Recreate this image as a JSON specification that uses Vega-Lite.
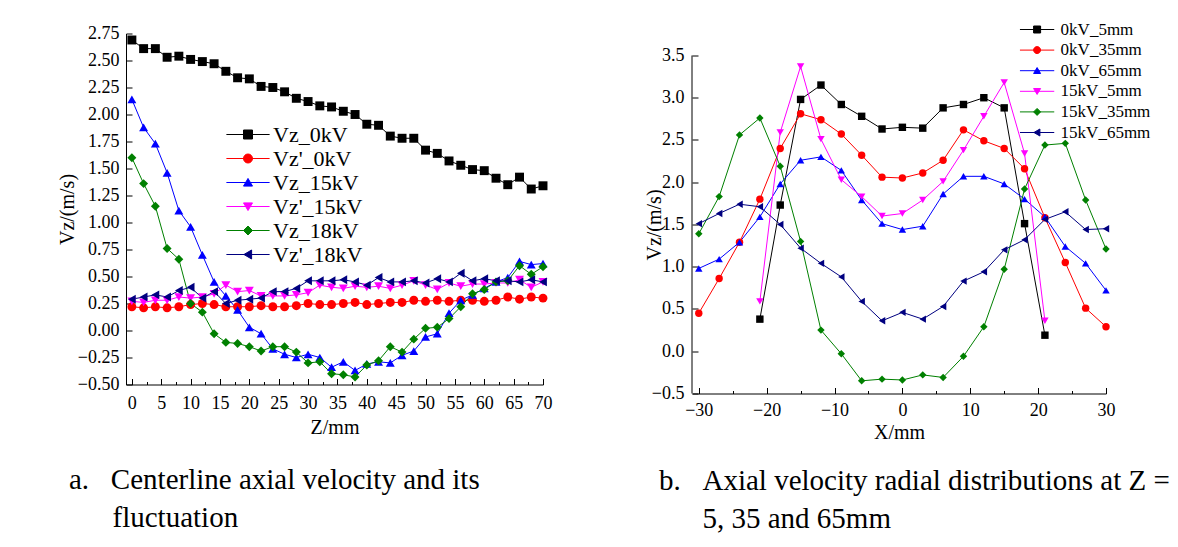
{
"$schema": "https://vega.github.io/schema/vega-lite/v6.json",
"background": "white",
"padding": {"left": 57, "top": 20.5, "right": 0, "bottom": 0},
"spacing": 92,
"config": {
  "font": "Liberation Serif",
  "view": {"stroke": null},
  "axis": {"domainColor": "black", "tickColor": "black", "labelColor": "black", "titleColor": "black", "grid": false, "titleFontWeight": "normal", "tickSize": -6, "domainWidth": 1, "tickWidth": 1, "labelFlush": false, "labelOverlap": false},
  "legend": {"labelFont": "Liberation Serif", "labelColor": "black"},
  "title": {"font": "Liberation Serif", "fontWeight": "normal", "color": "black"}
},
"resolve": {"scale": {"color": "independent", "shape": "independent", "fill": "independent", "stroke": "independent"}},
"datasets": {
"a": [
{"s":"Vz_0kV","z":0,"v":2.69},{"s":"Vz_0kV","z":2,"v":2.61},{"s":"Vz_0kV","z":4,"v":2.61},{"s":"Vz_0kV","z":6,"v":2.53},{"s":"Vz_0kV","z":8,"v":2.54},{"s":"Vz_0kV","z":10,"v":2.51},{"s":"Vz_0kV","z":12,"v":2.49},{"s":"Vz_0kV","z":14,"v":2.47},{"s":"Vz_0kV","z":16,"v":2.40},{"s":"Vz_0kV","z":18,"v":2.34},{"s":"Vz_0kV","z":20,"v":2.33},{"s":"Vz_0kV","z":22,"v":2.26},{"s":"Vz_0kV","z":24,"v":2.25},{"s":"Vz_0kV","z":26,"v":2.21},{"s":"Vz_0kV","z":28,"v":2.15},{"s":"Vz_0kV","z":30,"v":2.12},{"s":"Vz_0kV","z":32,"v":2.08},{"s":"Vz_0kV","z":34,"v":2.07},{"s":"Vz_0kV","z":36,"v":2.03},{"s":"Vz_0kV","z":38,"v":2.00},{"s":"Vz_0kV","z":40,"v":1.91},{"s":"Vz_0kV","z":42,"v":1.90},{"s":"Vz_0kV","z":44,"v":1.80},{"s":"Vz_0kV","z":46,"v":1.78},{"s":"Vz_0kV","z":48,"v":1.78},{"s":"Vz_0kV","z":50,"v":1.67},{"s":"Vz_0kV","z":52,"v":1.64},{"s":"Vz_0kV","z":54,"v":1.57},{"s":"Vz_0kV","z":56,"v":1.53},{"s":"Vz_0kV","z":58,"v":1.49},{"s":"Vz_0kV","z":60,"v":1.48},{"s":"Vz_0kV","z":62,"v":1.41},{"s":"Vz_0kV","z":64,"v":1.35},{"s":"Vz_0kV","z":66,"v":1.42},{"s":"Vz_0kV","z":68,"v":1.31},{"s":"Vz_0kV","z":70,"v":1.34},
{"s":"Vz'_0kV","z":0,"v":0.22},{"s":"Vz'_0kV","z":2,"v":0.21},{"s":"Vz'_0kV","z":4,"v":0.22},{"s":"Vz'_0kV","z":6,"v":0.21},{"s":"Vz'_0kV","z":8,"v":0.22},{"s":"Vz'_0kV","z":10,"v":0.24},{"s":"Vz'_0kV","z":12,"v":0.25},{"s":"Vz'_0kV","z":14,"v":0.24},{"s":"Vz'_0kV","z":16,"v":0.22},{"s":"Vz'_0kV","z":18,"v":0.22},{"s":"Vz'_0kV","z":20,"v":0.22},{"s":"Vz'_0kV","z":22,"v":0.23},{"s":"Vz'_0kV","z":24,"v":0.22},{"s":"Vz'_0kV","z":26,"v":0.22},{"s":"Vz'_0kV","z":28,"v":0.23},{"s":"Vz'_0kV","z":30,"v":0.25},{"s":"Vz'_0kV","z":32,"v":0.24},{"s":"Vz'_0kV","z":34,"v":0.24},{"s":"Vz'_0kV","z":36,"v":0.25},{"s":"Vz'_0kV","z":38,"v":0.26},{"s":"Vz'_0kV","z":40,"v":0.24},{"s":"Vz'_0kV","z":42,"v":0.25},{"s":"Vz'_0kV","z":44,"v":0.26},{"s":"Vz'_0kV","z":46,"v":0.26},{"s":"Vz'_0kV","z":48,"v":0.28},{"s":"Vz'_0kV","z":50,"v":0.27},{"s":"Vz'_0kV","z":52,"v":0.28},{"s":"Vz'_0kV","z":54,"v":0.27},{"s":"Vz'_0kV","z":56,"v":0.28},{"s":"Vz'_0kV","z":58,"v":0.28},{"s":"Vz'_0kV","z":60,"v":0.27},{"s":"Vz'_0kV","z":62,"v":0.28},{"s":"Vz'_0kV","z":64,"v":0.31},{"s":"Vz'_0kV","z":66,"v":0.29},{"s":"Vz'_0kV","z":68,"v":0.31},{"s":"Vz'_0kV","z":70,"v":0.30},
{"s":"Vz_15kV","z":0,"v":2.14},{"s":"Vz_15kV","z":2,"v":1.88},{"s":"Vz_15kV","z":4,"v":1.73},{"s":"Vz_15kV","z":6,"v":1.46},{"s":"Vz_15kV","z":8,"v":1.11},{"s":"Vz_15kV","z":10,"v":0.96},{"s":"Vz_15kV","z":12,"v":0.70},{"s":"Vz_15kV","z":14,"v":0.45},{"s":"Vz_15kV","z":16,"v":0.32},{"s":"Vz_15kV","z":18,"v":0.19},{"s":"Vz_15kV","z":20,"v":0.03},{"s":"Vz_15kV","z":22,"v":-0.03},{"s":"Vz_15kV","z":24,"v":-0.17},{"s":"Vz_15kV","z":26,"v":-0.22},{"s":"Vz_15kV","z":28,"v":-0.25},{"s":"Vz_15kV","z":30,"v":-0.22},{"s":"Vz_15kV","z":32,"v":-0.25},{"s":"Vz_15kV","z":34,"v":-0.34},{"s":"Vz_15kV","z":36,"v":-0.29},{"s":"Vz_15kV","z":38,"v":-0.37},{"s":"Vz_15kV","z":40,"v":-0.31},{"s":"Vz_15kV","z":42,"v":-0.29},{"s":"Vz_15kV","z":44,"v":-0.30},{"s":"Vz_15kV","z":46,"v":-0.23},{"s":"Vz_15kV","z":48,"v":-0.19},{"s":"Vz_15kV","z":50,"v":-0.06},{"s":"Vz_15kV","z":52,"v":-0.03},{"s":"Vz_15kV","z":54,"v":0.16},{"s":"Vz_15kV","z":56,"v":0.28},{"s":"Vz_15kV","z":58,"v":0.33},{"s":"Vz_15kV","z":60,"v":0.39},{"s":"Vz_15kV","z":62,"v":0.45},{"s":"Vz_15kV","z":64,"v":0.49},{"s":"Vz_15kV","z":66,"v":0.64},{"s":"Vz_15kV","z":68,"v":0.61},{"s":"Vz_15kV","z":70,"v":0.62},
{"s":"Vz'_15kV","z":0,"v":0.27},{"s":"Vz'_15kV","z":2,"v":0.26},{"s":"Vz'_15kV","z":4,"v":0.28},{"s":"Vz'_15kV","z":6,"v":0.28},{"s":"Vz'_15kV","z":8,"v":0.31},{"s":"Vz'_15kV","z":10,"v":0.30},{"s":"Vz'_15kV","z":12,"v":0.31},{"s":"Vz'_15kV","z":14,"v":0.34},{"s":"Vz'_15kV","z":16,"v":0.42},{"s":"Vz'_15kV","z":18,"v":0.36},{"s":"Vz'_15kV","z":20,"v":0.37},{"s":"Vz'_15kV","z":22,"v":0.32},{"s":"Vz'_15kV","z":24,"v":0.32},{"s":"Vz'_15kV","z":26,"v":0.32},{"s":"Vz'_15kV","z":28,"v":0.33},{"s":"Vz'_15kV","z":30,"v":0.35},{"s":"Vz'_15kV","z":32,"v":0.42},{"s":"Vz'_15kV","z":34,"v":0.40},{"s":"Vz'_15kV","z":36,"v":0.39},{"s":"Vz'_15kV","z":38,"v":0.41},{"s":"Vz'_15kV","z":40,"v":0.40},{"s":"Vz'_15kV","z":42,"v":0.41},{"s":"Vz'_15kV","z":44,"v":0.39},{"s":"Vz'_15kV","z":46,"v":0.42},{"s":"Vz'_15kV","z":48,"v":0.46},{"s":"Vz'_15kV","z":50,"v":0.42},{"s":"Vz'_15kV","z":52,"v":0.38},{"s":"Vz'_15kV","z":54,"v":0.44},{"s":"Vz'_15kV","z":56,"v":0.41},{"s":"Vz'_15kV","z":58,"v":0.43},{"s":"Vz'_15kV","z":60,"v":0.43},{"s":"Vz'_15kV","z":62,"v":0.44},{"s":"Vz'_15kV","z":64,"v":0.44},{"s":"Vz'_15kV","z":66,"v":0.47},{"s":"Vz'_15kV","z":68,"v":0.40},{"s":"Vz'_15kV","z":70,"v":0.45},
{"s":"Vz_18kV","z":0,"v":1.60},{"s":"Vz_18kV","z":2,"v":1.36},{"s":"Vz_18kV","z":4,"v":1.15},{"s":"Vz_18kV","z":6,"v":0.76},{"s":"Vz_18kV","z":8,"v":0.66},{"s":"Vz_18kV","z":10,"v":0.25},{"s":"Vz_18kV","z":12,"v":0.17},{"s":"Vz_18kV","z":14,"v":-0.03},{"s":"Vz_18kV","z":16,"v":-0.11},{"s":"Vz_18kV","z":18,"v":-0.12},{"s":"Vz_18kV","z":20,"v":-0.15},{"s":"Vz_18kV","z":22,"v":-0.19},{"s":"Vz_18kV","z":24,"v":-0.15},{"s":"Vz_18kV","z":26,"v":-0.15},{"s":"Vz_18kV","z":28,"v":-0.20},{"s":"Vz_18kV","z":30,"v":-0.30},{"s":"Vz_18kV","z":32,"v":-0.29},{"s":"Vz_18kV","z":34,"v":-0.40},{"s":"Vz_18kV","z":36,"v":-0.41},{"s":"Vz_18kV","z":38,"v":-0.43},{"s":"Vz_18kV","z":40,"v":-0.32},{"s":"Vz_18kV","z":42,"v":-0.28},{"s":"Vz_18kV","z":44,"v":-0.15},{"s":"Vz_18kV","z":46,"v":-0.20},{"s":"Vz_18kV","z":48,"v":-0.08},{"s":"Vz_18kV","z":50,"v":0.02},{"s":"Vz_18kV","z":52,"v":0.03},{"s":"Vz_18kV","z":54,"v":0.11},{"s":"Vz_18kV","z":56,"v":0.22},{"s":"Vz_18kV","z":58,"v":0.34},{"s":"Vz_18kV","z":60,"v":0.38},{"s":"Vz_18kV","z":62,"v":0.45},{"s":"Vz_18kV","z":64,"v":0.46},{"s":"Vz_18kV","z":66,"v":0.60},{"s":"Vz_18kV","z":68,"v":0.52},{"s":"Vz_18kV","z":70,"v":0.59},
{"s":"Vz'_18kV","z":0,"v":0.29},{"s":"Vz'_18kV","z":2,"v":0.31},{"s":"Vz'_18kV","z":4,"v":0.33},{"s":"Vz'_18kV","z":6,"v":0.31},{"s":"Vz'_18kV","z":8,"v":0.37},{"s":"Vz'_18kV","z":10,"v":0.40},{"s":"Vz'_18kV","z":12,"v":0.30},{"s":"Vz'_18kV","z":14,"v":0.36},{"s":"Vz'_18kV","z":16,"v":0.25},{"s":"Vz'_18kV","z":18,"v":0.28},{"s":"Vz'_18kV","z":20,"v":0.29},{"s":"Vz'_18kV","z":22,"v":0.30},{"s":"Vz'_18kV","z":24,"v":0.36},{"s":"Vz'_18kV","z":26,"v":0.36},{"s":"Vz'_18kV","z":28,"v":0.39},{"s":"Vz'_18kV","z":30,"v":0.46},{"s":"Vz'_18kV","z":32,"v":0.46},{"s":"Vz'_18kV","z":34,"v":0.46},{"s":"Vz'_18kV","z":36,"v":0.47},{"s":"Vz'_18kV","z":38,"v":0.45},{"s":"Vz'_18kV","z":40,"v":0.42},{"s":"Vz'_18kV","z":42,"v":0.49},{"s":"Vz'_18kV","z":44,"v":0.45},{"s":"Vz'_18kV","z":46,"v":0.45},{"s":"Vz'_18kV","z":48,"v":0.46},{"s":"Vz'_18kV","z":50,"v":0.44},{"s":"Vz'_18kV","z":52,"v":0.48},{"s":"Vz'_18kV","z":54,"v":0.45},{"s":"Vz'_18kV","z":56,"v":0.53},{"s":"Vz'_18kV","z":58,"v":0.46},{"s":"Vz'_18kV","z":60,"v":0.48},{"s":"Vz'_18kV","z":62,"v":0.46},{"s":"Vz'_18kV","z":64,"v":0.46},{"s":"Vz'_18kV","z":66,"v":0.45},{"s":"Vz'_18kV","z":68,"v":0.47},{"s":"Vz'_18kV","z":70,"v":0.45}
],
"b": [
{"s":"0kV_5mm","x":-21,"v":0.38},{"s":"0kV_5mm","x":-18,"v":1.73},{"s":"0kV_5mm","x":-15,"v":2.98},{"s":"0kV_5mm","x":-12,"v":3.15},{"s":"0kV_5mm","x":-9,"v":2.92},{"s":"0kV_5mm","x":-6,"v":2.78},{"s":"0kV_5mm","x":-3,"v":2.63},{"s":"0kV_5mm","x":0,"v":2.65},{"s":"0kV_5mm","x":3,"v":2.64},{"s":"0kV_5mm","x":6,"v":2.88},{"s":"0kV_5mm","x":9,"v":2.92},{"s":"0kV_5mm","x":12,"v":3.00},{"s":"0kV_5mm","x":15,"v":2.88},{"s":"0kV_5mm","x":18,"v":1.51},{"s":"0kV_5mm","x":21,"v":0.19},
{"s":"0kV_35mm","x":-30,"v":0.45},{"s":"0kV_35mm","x":-27,"v":0.86},{"s":"0kV_35mm","x":-24,"v":1.29},{"s":"0kV_35mm","x":-21,"v":1.80},{"s":"0kV_35mm","x":-18,"v":2.40},{"s":"0kV_35mm","x":-15,"v":2.81},{"s":"0kV_35mm","x":-12,"v":2.74},{"s":"0kV_35mm","x":-9,"v":2.57},{"s":"0kV_35mm","x":-6,"v":2.32},{"s":"0kV_35mm","x":-3,"v":2.06},{"s":"0kV_35mm","x":0,"v":2.05},{"s":"0kV_35mm","x":3,"v":2.11},{"s":"0kV_35mm","x":6,"v":2.26},{"s":"0kV_35mm","x":9,"v":2.62},{"s":"0kV_35mm","x":12,"v":2.49},{"s":"0kV_35mm","x":15,"v":2.40},{"s":"0kV_35mm","x":18,"v":2.16},{"s":"0kV_35mm","x":21,"v":1.58},{"s":"0kV_35mm","x":24,"v":1.05},{"s":"0kV_35mm","x":27,"v":0.51},{"s":"0kV_35mm","x":30,"v":0.29},
{"s":"0kV_65mm","x":-30,"v":0.98},{"s":"0kV_65mm","x":-27,"v":1.09},{"s":"0kV_65mm","x":-24,"v":1.29},{"s":"0kV_65mm","x":-21,"v":1.59},{"s":"0kV_65mm","x":-18,"v":1.98},{"s":"0kV_65mm","x":-15,"v":2.26},{"s":"0kV_65mm","x":-12,"v":2.30},{"s":"0kV_65mm","x":-9,"v":2.14},{"s":"0kV_65mm","x":-6,"v":1.79},{"s":"0kV_65mm","x":-3,"v":1.51},{"s":"0kV_65mm","x":0,"v":1.44},{"s":"0kV_65mm","x":3,"v":1.48},{"s":"0kV_65mm","x":6,"v":1.86},{"s":"0kV_65mm","x":9,"v":2.07},{"s":"0kV_65mm","x":12,"v":2.07},{"s":"0kV_65mm","x":15,"v":1.98},{"s":"0kV_65mm","x":18,"v":1.80},{"s":"0kV_65mm","x":21,"v":1.59},{"s":"0kV_65mm","x":24,"v":1.24},{"s":"0kV_65mm","x":27,"v":1.04},{"s":"0kV_65mm","x":30,"v":0.72},
{"s":"15kV_5mm","x":-21,"v":0.59},{"s":"15kV_5mm","x":-18,"v":2.59},{"s":"15kV_5mm","x":-15,"v":3.37},{"s":"15kV_5mm","x":-12,"v":2.51},{"s":"15kV_5mm","x":-9,"v":2.03},{"s":"15kV_5mm","x":-6,"v":1.83},{"s":"15kV_5mm","x":-3,"v":1.60},{"s":"15kV_5mm","x":0,"v":1.63},{"s":"15kV_5mm","x":3,"v":1.79},{"s":"15kV_5mm","x":6,"v":2.01},{"s":"15kV_5mm","x":9,"v":2.38},{"s":"15kV_5mm","x":12,"v":2.78},{"s":"15kV_5mm","x":15,"v":3.18},{"s":"15kV_5mm","x":18,"v":2.34},{"s":"15kV_5mm","x":21,"v":0.36},
{"s":"15kV_35mm","x":-30,"v":1.39},{"s":"15kV_35mm","x":-27,"v":1.83},{"s":"15kV_35mm","x":-24,"v":2.56},{"s":"15kV_35mm","x":-21,"v":2.76},{"s":"15kV_35mm","x":-18,"v":2.19},{"s":"15kV_35mm","x":-15,"v":1.30},{"s":"15kV_35mm","x":-12,"v":0.25},{"s":"15kV_35mm","x":-9,"v":-0.03},{"s":"15kV_35mm","x":-6,"v":-0.35},{"s":"15kV_35mm","x":-3,"v":-0.33},{"s":"15kV_35mm","x":0,"v":-0.34},{"s":"15kV_35mm","x":3,"v":-0.28},{"s":"15kV_35mm","x":6,"v":-0.31},{"s":"15kV_35mm","x":9,"v":-0.06},{"s":"15kV_35mm","x":12,"v":0.29},{"s":"15kV_35mm","x":15,"v":0.97},{"s":"15kV_35mm","x":18,"v":1.92},{"s":"15kV_35mm","x":21,"v":2.44},{"s":"15kV_35mm","x":24,"v":2.46},{"s":"15kV_35mm","x":27,"v":1.79},{"s":"15kV_35mm","x":30,"v":1.21},
{"s":"15kV_65mm","x":-30,"v":1.51},{"s":"15kV_65mm","x":-27,"v":1.63},{"s":"15kV_65mm","x":-24,"v":1.74},{"s":"15kV_65mm","x":-21,"v":1.71},{"s":"15kV_65mm","x":-18,"v":1.50},{"s":"15kV_65mm","x":-15,"v":1.22},{"s":"15kV_65mm","x":-12,"v":1.04},{"s":"15kV_65mm","x":-9,"v":0.88},{"s":"15kV_65mm","x":-6,"v":0.59},{"s":"15kV_65mm","x":-3,"v":0.36},{"s":"15kV_65mm","x":0,"v":0.46},{"s":"15kV_65mm","x":3,"v":0.38},{"s":"15kV_65mm","x":6,"v":0.53},{"s":"15kV_65mm","x":9,"v":0.83},{"s":"15kV_65mm","x":12,"v":0.94},{"s":"15kV_65mm","x":15,"v":1.20},{"s":"15kV_65mm","x":18,"v":1.32},{"s":"15kV_65mm","x":21,"v":1.56},{"s":"15kV_65mm","x":24,"v":1.65},{"s":"15kV_65mm","x":27,"v":1.44},{"s":"15kV_65mm","x":30,"v":1.45}
]
},
"hconcat": [
{
  "width": 417, "height": 351,
  "data": {"name": "a"},
  "title": {"text": ["a.\u00a0\u00a0\u00a0Centerline axial velocity and its", "\u200b\u00a0\u00a0\u00a0\u00a0\u00a0\u00a0fluctuation"], "orient": "bottom", "anchor": "start", "frame": "group", "dx": -57, "offset": 28, "fontSize": 29, "lineHeight": 38},
  "encoding": {
    "x": {"field": "z", "type": "quantitative", "scale": {"domain": [-1, 70], "nice": false, "zero": false},
      "axis": {"title": "Z/mm", "values": [0,2.5,5,7.5,10,12.5,15,17.5,20,22.5,25,27.5,30,32.5,35,37.5,40,42.5,45,47.5,50,52.5,55,57.5,60,62.5,65,67.5,70], "labelExpr": "datum.value % 5 === 0 ? datum.label : ''", "tickSize": {"condition": {"test": "datum.value % 5 === 0", "value": -6}, "value": -3}, "labelFontSize": 18, "titleFontSize": 20, "labelPadding": 16, "titlePadding": 2}},
    "y": {"field": "v", "type": "quantitative", "scale": {"domain": [-0.5, 2.75], "nice": false, "zero": false},
      "axis": {"title": "Vz/(m/s)", "values": [-0.5,-0.25,0,0.25,0.5,0.75,1,1.25,1.5,1.75,2,2.25,2.5,2.75], "format": ".2f", "labelFontSize": 18, "titleFontSize": 20, "labelPadding": 13, "titlePadding": 0}}
  },
  "layer": [
    {"mark": {"type": "line", "strokeWidth": 1},
     "encoding": {"color": {"field": "s", "type": "nominal", "scale": {"domain": ["Vz_0kV","Vz'_0kV","Vz_15kV","Vz'_15kV","Vz_18kV","Vz'_18kV"], "range": ["#000000","#ff0000","#0000ff","#ff00ff","#008000","#000080"]}, "legend": null}}},
    {"mark": {"type": "point", "filled": true, "opacity": 1, "size": 80, "strokeWidth": 0},
     "encoding": {"color": {"field": "s", "type": "nominal", "scale": {"domain": ["Vz_0kV","Vz'_0kV","Vz_15kV","Vz'_15kV","Vz_18kV","Vz'_18kV"], "range": ["#000000","#ff0000","#0000ff","#ff00ff","#008000","#000080"]}, "legend": null},
      "shape": {"field": "s", "type": "nominal", "scale": {"domain": ["Vz_0kV","Vz'_0kV","Vz_15kV","Vz'_15kV","Vz_18kV","Vz'_18kV"], "range": ["square","circle","triangle-up","triangle-down","diamond","triangle-left"]}, "legend": null}}},
    {"transform": [{"filter": "false"}],
     "mark": {"type": "point", "filled": true, "opacity": 1, "size": 81},
     "encoding": {
      "fill": {"field": "s", "type": "nominal", "scale": {"domain": ["Vz_0kV","Vz'_0kV","Vz_15kV","Vz'_15kV","Vz_18kV","Vz'_18kV"], "range": ["#000000","#ff0000","#0000ff","#ff00ff","#008000","#000080"]},
        "legend": {"orient": "none", "legendX": 98, "legendY": 90, "title": null, "labelFontSize": 22, "symbolSize": 81, "symbolStrokeWidth": 1, "symbolOffset": 13, "labelOffset": 14, "rowPadding": 2, "padding": 0, "labelLimit": 0}},
      "stroke": {"field": "s", "type": "nominal", "scale": {"domain": ["Vz_0kV","Vz'_0kV","Vz_15kV","Vz'_15kV","Vz_18kV","Vz'_18kV"], "range": ["#000000","#ff0000","#0000ff","#ff00ff","#008000","#000080"]},
        "legend": {"orient": "none", "legendX": 98, "legendY": 90, "title": null, "labelFontSize": 22, "symbolSize": 81, "symbolStrokeWidth": 1, "symbolOffset": 13, "labelOffset": 14, "rowPadding": 2, "padding": 0, "labelLimit": 0}},
      "shape": {"field": "s", "type": "nominal", "scale": {"domain": ["Vz_0kV","Vz'_0kV","Vz_15kV","Vz'_15kV","Vz_18kV","Vz'_18kV"], "range": ["M-4.8,0H4.8M-1,-1H1V1H-1Z","M-4.8,0H4.8M1,0A1,1,0,1,1,-1,0A1,1,0,1,1,1,0Z","M-4.8,0H4.8M0,-0.9L1,0.8L-1,0.8Z","M-4.8,0H4.8M0,0.9L1,-0.8L-1,-0.8Z","M-4.8,0H4.8M-1,0L0,-1L1,0L0,1Z","M-4.8,0H4.8M-0.9,0L0.8,-1L0.8,1Z"]},
        "legend": {"orient": "none", "legendX": 98, "legendY": 90, "title": null, "labelFontSize": 22, "symbolSize": 81, "symbolStrokeWidth": 1, "symbolOffset": 13, "labelOffset": 14, "rowPadding": 2, "padding": 0, "labelLimit": 0}}
     }}
  ],
  "resolve": {"scale": {"shape": "independent", "fill": "independent", "stroke": "independent"}}
},
{
  "width": 414, "height": 360,
  "data": {"name": "b"},
  "title": {"text": ["b.\u00a0\u00a0\u00a0Axial velocity radial distributions at Z =", "\u200b\u00a0\u00a0\u00a0\u00a0\u00a0\u00a05, 35 and 65mm"], "orient": "bottom", "anchor": "start", "frame": "group", "dx": -33, "offset": 24, "fontSize": 29, "lineHeight": 38},
  "encoding": {
    "x": {"field": "x", "type": "quantitative", "scale": {"domain": [-31, 30], "nice": false, "zero": false},
      "axis": {"title": "X/mm", "values": [-30,-25,-20,-15,-10,-5,0,5,10,15,20,25,30], "labelExpr": "datum.value % 10 === 0 ? datum.label : ''", "tickSize": {"condition": {"test": "datum.value % 10 === 0", "value": -6}, "value": -3}, "labelFontSize": 18, "titleFontSize": 20, "labelPadding": 14, "titlePadding": 0}},
    "y": {"field": "v", "type": "quantitative", "scale": {"domain": [-0.5, 3.76], "nice": false, "zero": false},
      "axis": {"title": "Vz/(m/s)", "titleY": 191, "domain": false, "values": [-0.5,0,0.5,1,1.5,2,2.5,3,3.5], "format": ".1f", "labelFontSize": 18, "titleFontSize": 20, "labelPadding": 14, "titlePadding": -13}}
  },
  "layer": [
    {"data": {"values": [{"x0": -31, "y0": -0.5, "y1": 3.5}]}, "mark": {"type": "rule", "color": "black", "strokeWidth": 1},
     "encoding": {"x": {"field": "x0", "type": "quantitative"}, "y": {"field": "y0", "type": "quantitative"}, "y2": {"field": "y1"}}},
    {"mark": {"type": "line", "strokeWidth": 1},
     "encoding": {"color": {"field": "s", "type": "nominal", "scale": {"domain": ["0kV_5mm","0kV_35mm","0kV_65mm","15kV_5mm","15kV_35mm","15kV_65mm"], "range": ["#000000","#ff0000","#0000ff","#ff00ff","#008000","#000080"]}, "legend": null}}},
    {"mark": {"type": "point", "filled": true, "opacity": 1, "size": 55, "strokeWidth": 0},
     "encoding": {"color": {"field": "s", "type": "nominal", "scale": {"domain": ["0kV_5mm","0kV_35mm","0kV_65mm","15kV_5mm","15kV_35mm","15kV_65mm"], "range": ["#000000","#ff0000","#0000ff","#ff00ff","#008000","#000080"]}, "legend": null},
      "shape": {"field": "s", "type": "nominal", "scale": {"domain": ["0kV_5mm","0kV_35mm","0kV_65mm","15kV_5mm","15kV_35mm","15kV_65mm"], "range": ["square","circle","triangle-up","triangle-down","diamond","triangle-left"]}, "legend": null}}},
    {"transform": [{"filter": "false"}],
     "mark": {"type": "point", "filled": true, "opacity": 1, "size": 49},
     "encoding": {
      "fill": {"field": "s", "type": "nominal", "scale": {"domain": ["0kV_5mm","0kV_35mm","0kV_65mm","15kV_5mm","15kV_35mm","15kV_65mm"], "range": ["#000000","#ff0000","#0000ff","#ff00ff","#008000","#000080"]},
        "legend": {"orient": "none", "legendX": 331, "legendY": -12.5, "title": null, "labelFontSize": 17, "symbolSize": 49, "symbolStrokeWidth": 1, "symbolOffset": 5.6, "labelOffset": 15, "rowPadding": 2.6, "padding": 0, "labelLimit": 0}},
      "stroke": {"field": "s", "type": "nominal", "scale": {"domain": ["0kV_5mm","0kV_35mm","0kV_65mm","15kV_5mm","15kV_35mm","15kV_65mm"], "range": ["#000000","#ff0000","#0000ff","#ff00ff","#008000","#000080"]},
        "legend": {"orient": "none", "legendX": 331, "legendY": -12.5, "title": null, "labelFontSize": 17, "symbolSize": 49, "symbolStrokeWidth": 1, "symbolOffset": 5.6, "labelOffset": 15, "rowPadding": 2.6, "padding": 0, "labelLimit": 0}},
      "shape": {"field": "s", "type": "nominal", "scale": {"domain": ["0kV_5mm","0kV_35mm","0kV_65mm","15kV_5mm","15kV_35mm","15kV_65mm"], "range": ["M-4.9,0H4.9M-1,-1H1V1H-1Z","M-4.9,0H4.9M1,0A1,1,0,1,1,-1,0A1,1,0,1,1,1,0Z","M-4.9,0H4.9M0,-0.9L1,0.8L-1,0.8Z","M-4.9,0H4.9M0,0.9L1,-0.8L-1,-0.8Z","M-4.9,0H4.9M-1,0L0,-1L1,0L0,1Z","M-4.9,0H4.9M-0.9,0L0.8,-1L0.8,1Z"]},
        "legend": {"orient": "none", "legendX": 331, "legendY": -12.5, "title": null, "labelFontSize": 17, "symbolSize": 49, "symbolStrokeWidth": 1, "symbolOffset": 5.6, "labelOffset": 15, "rowPadding": 2.6, "padding": 0, "labelLimit": 0}}
     }}
  ],
  "resolve": {"scale": {"shape": "independent", "fill": "independent", "stroke": "independent"}}
}
]
}
